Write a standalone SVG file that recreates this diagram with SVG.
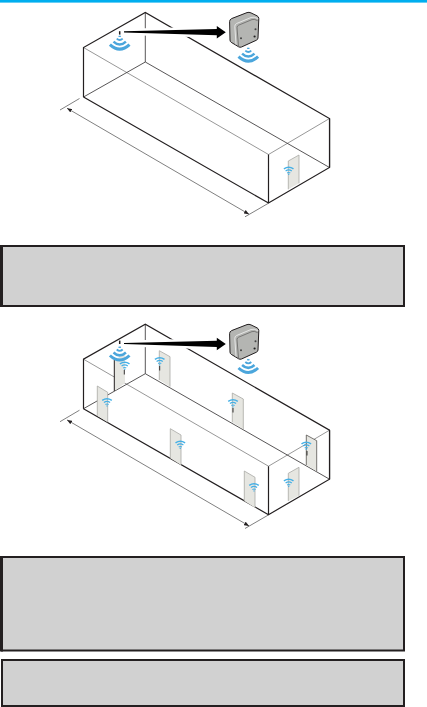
<svg xmlns="http://www.w3.org/2000/svg" xmlns:xlink="http://www.w3.org/1999/xlink" width="427" height="707" viewBox="0 0 427 707">
<style>
.bold{fill:none;stroke:#231f20;stroke-width:1.2}
.mid{fill:none;stroke:#3a3839;stroke-width:.85}
.thin{fill:none;stroke:#858585;stroke-width:.85}
.dim{fill:none;stroke:#555;stroke-width:.75}
.door{fill:#e6e6e1;stroke:none}
.dedge{fill:none;stroke:#a8a8a4;stroke-width:.8}
.handle{fill:none;stroke:#231f20;stroke-width:.9}
.panel{fill:#d1d1d1;stroke:#231f20;stroke-width:2}
.w{fill:none;stroke:#4ba6dc;stroke-linecap:butt}
.ws{fill:none;stroke:#45b0e6;stroke-linecap:butt}
</style>
<defs>
<marker id="tipEnd" markerWidth="5" markerHeight="4" refX="5" refY="2" orient="auto" markerUnits="userSpaceOnUse"><path d="M0 0L5 2L0 4Z" fill="#231f20"/></marker>
<marker id="tipStart" markerWidth="5" markerHeight="4" refX="0" refY="2" orient="auto" markerUnits="userSpaceOnUse"><path d="M5 0L0 2L5 4Z" fill="#231f20"/></marker>
<g id="wifiBig">
<path class="w" stroke-width="3" d="M-9.8 6Q0 15 9.8 6"/>
<path class="w" stroke-width="2.5" d="M-6.2 3Q0 8.8 6.2 3"/>
<path class="w" stroke-width="1.8" d="M-3 0Q0 2.8 3 0"/>
<path class="w" stroke-width="1.3" d="M-1.1 -2.6Q0 -1.8 1.1 -2.6"/>
</g>
<g id="wifiSmall">
<path class="ws" stroke-width="1.5" d="M-4.8 -2.2Q0 -5.4 4.8 -2.2"/>
<path class="ws" stroke-width="1.3" d="M-3.1 0Q0 -2.1 3.1 0"/>
<path class="ws" stroke-width="1.1" d="M-1.6 2Q0 1 1.6 2"/>
<circle cx="0" cy="3.4" r=".7" fill="#45b0e6"/>
</g>
<g id="device">
<path d="M229.6 21.6Q229.6 19.6 231.6 18.6L247 12.6Q249 11.9 251 12.9L257 15.8Q258.8 16.7 258.8 18.5L258 38Q257.9 39.6 256.2 40.3L241.5 47Q240 47.6 238.6 46.8L231.2 42.3Q230 41.5 230 40Z" fill="#b4b5b2" stroke="#231f20" stroke-width="1"/>
<path d="M236 44.5L234.8 26.5Q234.7 24.4 236.6 23.5L251 17.5Q254 16.4 257.8 18.6" fill="none" stroke="#f2f2f2" stroke-width=".8"/>
<path d="M238.5 46L237 27.5Q236.9 26 238.6 25.2L252 19.6Q254.5 18.8 257.6 20.6" fill="none" stroke="#3a3839" stroke-width=".5"/>
<circle cx="241" cy="38.2" r="1" fill="#444"/>
<circle cx="255.5" cy="29.3" r="1" fill="#444"/>
<circle cx="254.6" cy="36.5" r="1.1" fill="#222"/>
</g>
<g id="room">
<path class="thin" d="M83.5 47.5L268.5 154.5L329.5 118.5"/>
<path class="mid" d="M145.3 12.5V62M83.5 97L145.3 62L329.5 167.5"/>
<path d="M330.2 118.5V167.5" stroke="#d8d8d8" stroke-width="1.6" fill="none"/>
<path class="bold" d="M83.5 97V47.5L145.3 12.5L329.5 118.5V167.5L268.5 203V154.5M268.5 203L83.5 97"/>
</g>
<g id="dims">
<path class="dim" d="M60 110L79.5 98.5M245 216.8L268 203.5"/>
<path class="dim" d="M67 108.2L249 214.2" marker-start="url(#tipStart)" marker-end="url(#tipEnd)"/>
</g>
<g id="pointer">
<path d="M124 31.2L216.8 29.1V26L225.8 32.3L216.8 38.5V35.2L124 32.4Z" fill="#000" stroke="#fff" stroke-width="5" stroke-linejoin="round" paint-order="stroke"/>
</g>
</defs>

<rect id="top-rule" x="0" y="0" width="427" height="2.6" fill="#00aeef"/>

<g id="scene-a" >
<g id="room-a"><use xlink:href="#room" href="#room"/></g>
<g id="door-a1"><path class="door" d="M288.3 161L299 155V183.3L288.3 189.3Z"/><path class="dedge" d="M288.3 189.3V161L299 155V183.3"/><use href="#wifiSmall" x="288.7" y="171"/></g>
<g id="sensor-a"><path d="M119.7 31.2V34.6" stroke="#231f20" stroke-width="1.5"/><use href="#wifiBig" x="119.7" y="38.6"/></g>
<g id="gateway-a"><use href="#device"/><use href="#wifiBig" x="248.3" y="50.6"/></g>
</g>

<g id="scene-b">
<g id="room-b"><use href="#room" y="311.7"/></g>
<g id="door-b1"><path class="door" d="M114.3 360L125 354V383L114.3 391Z"/><path d="M114.3 391V360" stroke="#231f20" stroke-width="1" fill="none"/><use href="#wifiSmall" x="124.7" y="366"/><path class="handle" d="M124.3 370V374.5"/></g>
<g id="door-b2"><path class="door" d="M159.3 350.7L170 356.7V386.7L159.3 380Z"/><path class="dedge" d="M159.3 380V350.7L170 356.7V386.7"/><use href="#wifiSmall" x="159.7" y="361.5"/><path class="handle" d="M159.7 366V370.5"/></g>
<g id="door-b3"><path class="door" d="M232.3 393L243.3 399V429L232.3 422.3Z"/><path class="dedge" d="M232.3 422.3V393L243.3 399V429"/><use href="#wifiSmall" x="233" y="403.5"/><path class="handle" d="M233 408V412.5"/></g>
<g id="door-b4"><path class="door" d="M97.3 386L107.7 392.3V422.3L97.3 415.7Z"/><path class="dedge" d="M97.3 415.7V386L107.7 392.3V422.3"/><use href="#wifiSmall" x="107" y="402.5"/></g>
<g id="door-b5"><path class="door" d="M170.3 428.7L181 435V465L170.3 458.3Z"/><path class="dedge" d="M170.3 458.3V428.7L181 435V465"/><use href="#wifiSmall" x="180.3" y="445"/></g>
<g id="door-b6"><path class="door" d="M244.3 471L255 477.3V507.7L244.3 501Z"/><path class="dedge" d="M244.3 501V471L255 477.3V507.7"/><use href="#wifiSmall" x="254" y="487.5"/></g>
<g id="door-b7"><path class="door" d="M288.3 473.3L299 467.3V495.7L288.3 501Z"/><path class="dedge" d="M288.3 501V473.3L299 467.3V495.7"/><use href="#wifiSmall" x="288.7" y="483"/></g>
<g id="door-b8"><path class="door" d="M306.3 435L316.7 440.7V471.3L306.3 465Z"/><path d="M306.3 465V435L316.7 440.7V471.3" stroke="#55534f" stroke-width=".8" fill="none"/><use href="#wifiSmall" x="306.3" y="446"/><path class="handle" d="M307 451V455.5"/></g>
<g id="sensor-b"><path d="M119.7 340.6V344" stroke="#231f20" stroke-width="1.5"/><use href="#wifiBig" x="119.7" y="349.5"/></g>
<g id="gateway-b"><use href="#device" y="312"/><use href="#wifiBig" x="248.3" y="362"/></g>
</g>

<g id="connectors">
<use href="#pointer"/>
<use href="#dims"/>
<use href="#pointer" y="311.7"/>
<use href="#dims" y="311.7"/>
</g>

<g id="panel-1"><rect class="panel" x="2" y="246" width="402" height="60"/><rect x="0" y="245" width="3" height="62" fill="#231f20"/></g>
<g id="panel-2"><rect class="panel" x="2" y="557" width="402" height="93.5"/><rect x="0" y="556" width="3" height="95.5" fill="#231f20"/></g>
<g id="panel-3"><rect class="panel" x="2" y="660" width="402" height="46"/></g>
</svg>
